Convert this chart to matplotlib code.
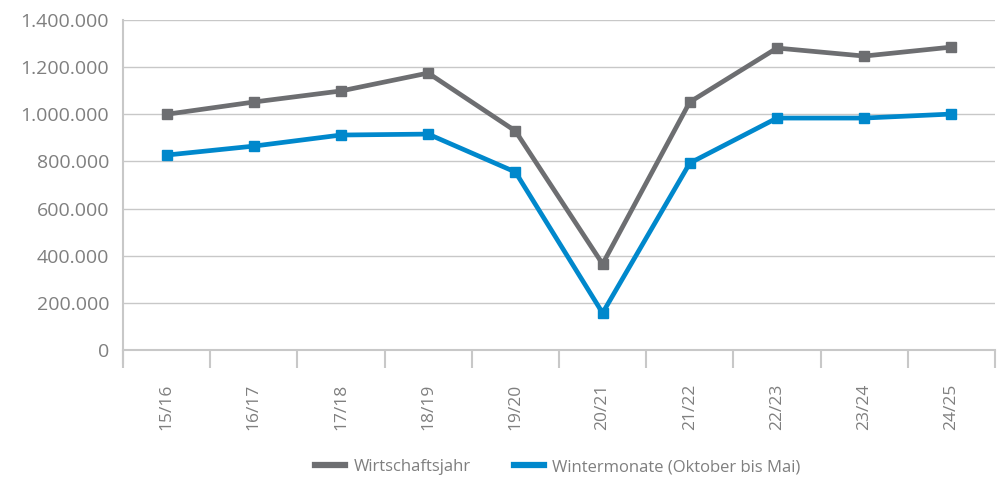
"""Line chart: Wirtschaftsjahr vs. Wintermonate, 15/16 to 24/25."""

import numpy as np
import matplotlib
matplotlib.use("Agg")
import matplotlib.pyplot as plt
from matplotlib.ticker import FuncFormatter

# ---------------------------------------------------------------------------
# Data
# ---------------------------------------------------------------------------
seasons = ["15/16", "16/17", "17/18", "18/19", "19/20",
           "20/21", "21/22", "22/23", "23/24", "24/25"]
wirtschaftsjahr = [1000000, 1052000, 1099000, 1175000, 929000,
                   365000, 1052000, 1281000, 1247000, 1285000]
wintermonate = [827000, 865000, 912000, 916000, 755000,
                157000, 793000, 984000, 984000, 1001000]
y_ticks = [0, 200000, 400000, 600000, 800000, 1000000, 1200000, 1400000]

GRAY = "#6d6e71"
BLUE = "#0088cc"
TEXT = "#7f7f7f"
GRID = "#c8c8c8"

plt.rcParams["font.family"] = ["Open Sans", "DejaVu Sans"]

fig = plt.figure(figsize=(10.02, 4.83), dpi=100)
ax = fig.add_axes([123 / 1002, 1 - 350 / 483, (995 - 123) / 1002, 330 / 483])

x = np.arange(len(seasons))
ax.plot(x, wirtschaftsjahr, color=GRAY, lw=3.4, marker="s", ms=7.5,
        label="Wirtschaftsjahr")
ax.plot(x, wintermonate, color=BLUE, lw=3.4, marker="s", ms=7.5,
        label="Wintermonate (Oktober bis Mai)")

ax.set_xlim(-0.5, len(seasons) - 0.5)
ax.set_ylim(0, 1400000)
ax.set_yticks(y_ticks)
ax.yaxis.set_major_formatter(FuncFormatter(lambda v, _: f"{int(v):,}".replace(",", ".")))
ax.grid(axis="y", color=GRID, lw=1)
ax.set_axisbelow(True)

# category boundaries get the tick marks, labels sit at the centres
ax.set_xticks(np.arange(-0.5, len(seasons)), minor=False)
ax.set_xticklabels([])
ax.set_xticks(x, minor=True)
ax.set_xticklabels(seasons, minor=True, rotation=90, fontsize=12.5, color=TEXT)
ax.tick_params(axis="x", which="major", length=13, width=1.5, color=GRID)
ax.tick_params(axis="x", which="minor", length=0, pad=24)
ax.tick_params(axis="y", length=0, labelsize=14, labelcolor=TEXT, pad=10)

for side in ["top", "right"]:
    ax.spines[side].set_visible(False)
ax.spines["left"].set_color(GRID)
ax.spines["left"].set_linewidth(1.5)
ax.spines["left"].set_bounds(-55000, 1400000)
ax.spines["bottom"].set_color(GRID)
ax.spines["bottom"].set_linewidth(1.5)

leg = fig.legend(loc="center", bbox_to_anchor=(558 / 1002, 1 - 467 / 483), ncol=2,
                 frameon=False, fontsize=12, handlelength=1.8, columnspacing=2.6,
                 handletextpad=0.5)
for t in leg.get_texts():
    t.set_color(TEXT)
for h in leg.get_lines():
    h.set_marker("")
    h.set_linewidth(4.5)

fig.savefig("out.png", dpi=100)
